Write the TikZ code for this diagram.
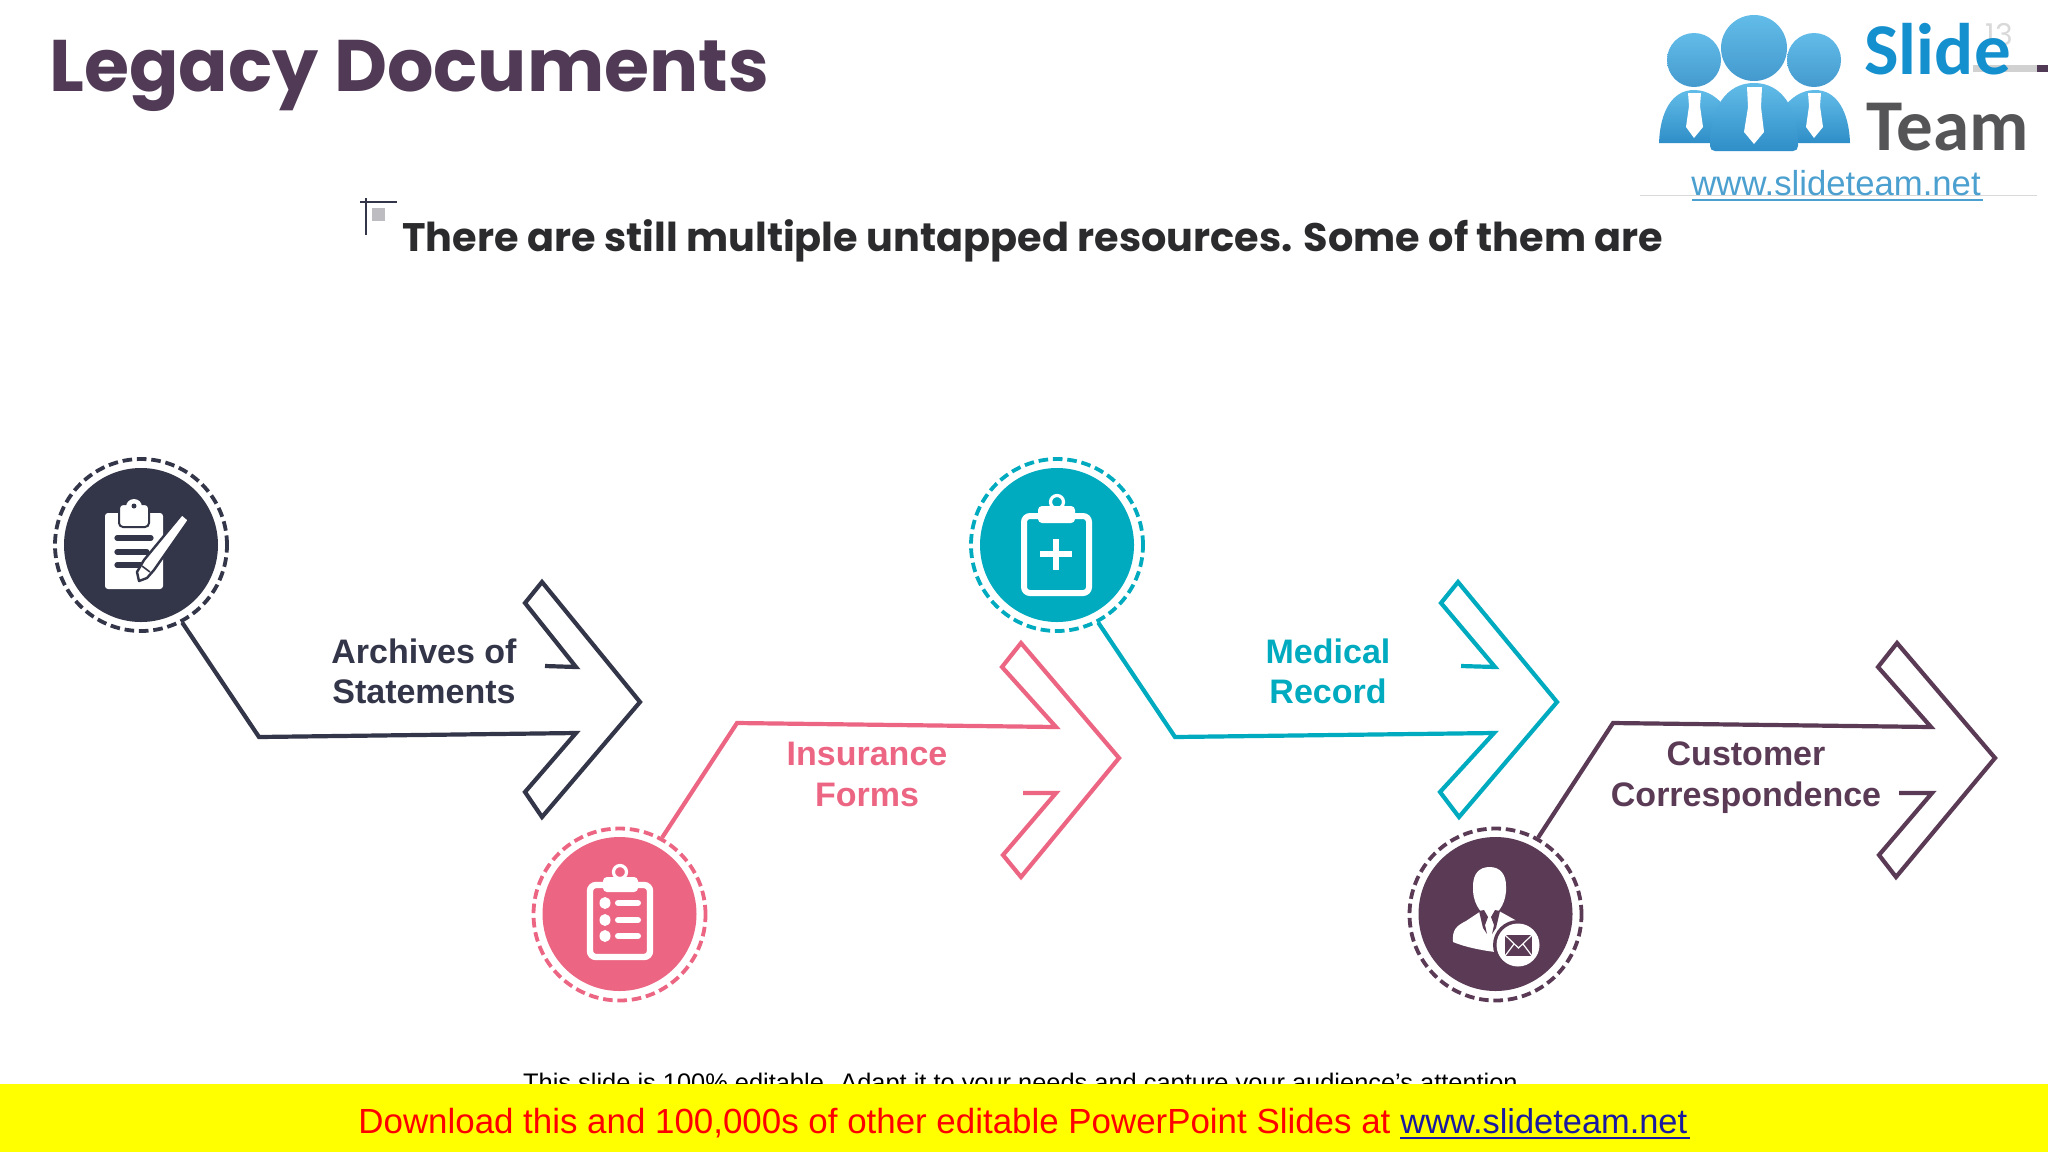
\documentclass[tikz,border=0pt]{standalone}
\usepackage{fontspec}
\setmainfont{Liberation Sans}
\newfontfamily\headfont{Poppins}
\newfontfamily\logofont{Carlito}
\usetikzlibrary{calc}
\definecolor{cdark}{HTML}{333549}
\definecolor{cpink}{HTML}{EC6684}
\definecolor{cteal}{HTML}{00ABC0}
\definecolor{cplum}{HTML}{5A3A55}
\definecolor{ctitle}{HTML}{503A55}
\definecolor{csub}{HTML}{2B2B2E}
\definecolor{logoA}{HTML}{62BCE8}
\definecolor{logoB}{HTML}{2F8EC8}
\definecolor{logoC}{HTML}{1590CE}
\definecolor{logoG}{HTML}{555558}
\definecolor{logoL}{HTML}{4BA0D0}
\definecolor{cband}{HTML}{FFFF00}
\definecolor{clink}{HTML}{1A1AA0}
\tikzset{
  x=0.5pt,y=-0.5pt,
  flow/.style={draw=#1,line width=2.1pt,miter limit=10,line join=miter},
  ringnode/.style={circle,draw=#1,line width=1.9pt,dash pattern=on 4.8pt off 2.4pt,minimum size=86pt,inner sep=0pt},
  disk/.style={circle,fill=#1,minimum size=77pt,inner sep=0pt},
  lab/.style={font=\bfseries\fontsize{17}{20}\selectfont,text=#1,anchor=base,inner sep=0pt},
  iconw/.style={fill=white,draw=none},
  headtxt/.style={font=\headfont\bfseries,anchor=base west,inner sep=0pt},
  logohead/.style={circle,top color=logoA,bottom color=logoB!90!white,draw=none,minimum size=#1,inner sep=0pt},
}
\begin{document}
\begin{tikzpicture}
\useasboundingbox (0,0) rectangle (2048,1152);
\fill[white] (0,0) rectangle (2048,1152);

% top rule and number
\fill[black!18] (1973,65) rectangle (2037,72);
\fill[ctitle] (2037,65) rectangle (2048,72);
\node[headtxt,text=black!15,font=\headfont\fontsize{15}{18}\selectfont] (pagenum) at (1985,45) {13};

% title
\node[headtxt,text=ctitle,font=\headfont\bfseries\fontsize{36.5}{40}\selectfont] (title) at (49,91) {Legacy Documents};
\draw[cdark,line width=0.6pt] (360,202) -- (397,202) (366,198) -- (366,235);
\fill[black!25!blue!5!gray!50] (372,208) rectangle (385,221);
\node[headtxt,text=csub,font=\headfont\bfseries\fontsize{19.9}{22}\selectfont] (sub) at (402,251) {There are still multiple untapped resources. Some of them are};

% logo
\draw[black!15,line width=0.4pt] (1640,195) -- (2037,195);
\shade[top color=logoA,bottom color=logoB] (1659,143) .. controls (1660,112) and (1672,90) .. (1694,90) .. controls (1708,90) and (1718,98) .. (1726,108) -- (1726,143) -- cycle;
\shade[top color=logoA,bottom color=logoB] (1850,143) .. controls (1849,112) and (1837,90) .. (1815,90) .. controls (1801,90) and (1791,98) .. (1783,108) -- (1783,143) -- cycle;
\shade[top color=logoA,bottom color=logoB] (1710,146) .. controls (1710,108) and (1726,83) .. (1754,83) .. controls (1782,83) and (1798,108) .. (1798,146) .. controls (1798,149) and (1796,151) .. (1793,151) -- (1715,151) .. controls (1712,151) and (1710,149) .. (1710,146) -- cycle;
\node[logohead=27pt] (h1) at (1694,60) {};
\node[logohead=27pt] (h3) at (1814,60) {};
\node[logohead=33pt] (h2) at (1754,48) {};
\fill[white] (1688,93) -- (1701,93) -- (1700,106) -- (1703,127) -- (1694,138) -- (1686,127) -- (1689,106) -- cycle;
\fill[white] (1808,93) -- (1821,93) -- (1820,106) -- (1823,127) -- (1814,138) -- (1806,127) -- (1809,106) -- cycle;
\fill[white] (1747,87) -- (1762,87) -- (1761,107) -- (1764,132) -- (1754,144) -- (1744,132) -- (1748,107) -- cycle;
\node[headtxt,text=logoC,font=\logofont\bfseries\fontsize{36.5}{40}\selectfont] (slide) at (1864,74) {Slide};
\node[headtxt,text=logoG,font=\logofont\bfseries\fontsize{36.5}{40}\selectfont] (team) at (1866,150) {Team};
\node[headtxt,text=logoL,font=\fontsize{17.35}{20}\selectfont] (logourl) at (1691,195) {www.slideteam.net};
\draw[logoL,line width=1pt] (1692,200) -- (1983,200);

% circles
\node[ringnode=cdark] (c1) at (141,545) {};
\node[disk=cdark] (d1) at (141,545) {};
\node[ringnode=cpink] (c2) at (619.5,914.5) {};
\node[disk=cpink] (d2) at (619.5,914) {};
\node[ringnode=cteal] (c3) at (1057,545) {};
\node[disk=cteal] (d3) at (1057,545) {};
\node[ringnode=cplum] (c4) at (1495.5,914.5) {};
\node[disk=cplum] (d4) at (1495.5,914) {};

% arrows
\coordinate (e1) at (259,737);
\draw[flow=cdark] (c1.-62) -- (e1) -- (576,733) -- (525,792) -- (542,817) -- (640,702) -- (542,582) -- (525,603) -- (576,667) -- (545,666);
\coordinate (e2) at (737,723);
\draw[flow=cpink] (c2.61) -- (e2) -- (1056,727) -- (1002,667) -- (1021,643) -- (1119,758) -- (1021,877) -- (1003,855) -- (1056,793) -- (1023,793);
\coordinate (e3) at (1175,737);
\draw[flow=cteal] (c3.-62) -- (e3) -- (1494,733) -- (1440,792) -- (1459,817) -- (1557,702) -- (1458,582) -- (1441,603) -- (1495,667) -- (1461,666);
\coordinate (e4) at (1613,723);
\draw[flow=cplum] (c4.61) -- (e4) -- (1931,727) -- (1878,667) -- (1897,643) -- (1995,758) -- (1896,877) -- (1879,855) -- (1932,793) -- (1899,793);

% labels
\node[lab=cdark] (l1a) at (424,663) {Archives of};
\node[lab=cdark] (l1b) at (424,703) {Statements};
\node[lab=cpink] (l2a) at (867,765) {Insurance};
\node[lab=cpink] (l2b) at (867,806) {Forms};
\node[lab=cteal] (l3a) at (1328,663) {Medical};
\node[lab=cteal] (l3b) at (1328,703) {Record};
\node[lab=cplum] (l4a) at (1746,765) {Customer};
\node[lab=cplum] (l4b) at (1746,806) {Correspondence};

% icon 1
\fill[white,rounded corners=1.5pt] (105,513) rectangle (163,589);
\fill[white,draw=cdark,line width=1pt,rounded corners=2pt] (119,504) rectangle (149,527);
\fill[white] (134,507) circle[radius=8];
\fill[cdark] (134,506) circle[radius=2.5];
\draw[cdark,line width=2.6pt,line cap=round] (117,538) -- (151,538) (117,552) -- (147,552) (117,565) -- (141,565);
\draw[cdark,line width=1.2pt,line join=round,fill=white] (182,514) -- (189,520) -- (154,570) -- (147,578) -- (139,581) -- (137,572) -- (144,560) -- cycle;
\draw[cdark,line width=0.8pt] (142,566) -- (150,572);

% icon 2
\draw[white,line width=3.2pt,rounded corners=3pt] (590,885) rectangle (650,957);
\fill[white,rounded corners=2pt] (603,877) rectangle (638,892);
\draw[white,line width=1.6pt] (620,872) circle[radius=6.5];
\foreach \yy in {903,920,936}{
  \fill[white] (605,\yy) ellipse[x radius=5.5,y radius=6];
  \draw[white,line width=3pt,line cap=round] (618,\yy) -- (638,\yy);
}

% icon 3
\draw[white,line width=3pt,rounded corners=3pt] (1024,516) rectangle (1089,593);
\fill[white,rounded corners=2pt] (1038,506) rectangle (1075,523);
\draw[white,line width=1.6pt] (1057,502) circle[radius=6.5];
\draw[white,line width=3pt] (1040,554) -- (1072,554) (1056,539) -- (1056,570);

% icon 4
\fill[white] (1453,942) .. controls (1452,930) and (1456,926) .. (1466,921) -- (1481,911) -- (1499,911) -- (1517,921) -- (1530,940) -- (1515,955) -- (1495,952) .. controls (1480,950) and (1465,947) .. (1453,942) -- cycle;
\fill[white] (1489.5,867) .. controls (1500,867) and (1506,874) .. (1506,886) .. controls (1507,900) and (1500,914) .. (1489.5,917) .. controls (1479,914) and (1472,900) .. (1473,886) .. controls (1473,874) and (1479,867) .. (1489.5,867) -- cycle;
\fill[cplum] (1479,911) -- (1484,910) -- (1488,917) -- (1485,925) -- (1487,934) -- (1483,928) -- cycle;
\fill[cplum] (1500,911) -- (1495,910) -- (1491,917) -- (1494,925) -- (1492,934) -- (1496,928) -- cycle;
\fill[cplum] (1518,945) circle[radius=25];
\fill[white] (1518,945) circle[radius=21.5];
\fill[cplum] (1505,935) rectangle (1532,956);
\draw[white,line width=0.6pt] (1505,935) -- (1518.5,948) -- (1532,935) (1505,956) -- (1514,944) (1532,956) -- (1523,944);

% footer
\node[anchor=base,inner sep=0pt,text=black,font=\fontsize{12.7}{15}\selectfont] (foot) at (1024,1091) {This slide is 100\% editable. Adapt it to your needs and capture your audience\symbol{39}s attention.};
\fill[cband] (0,1084) rectangle (2048,1152);
\node[anchor=base west,inner sep=0pt,text=red,font=\fontsize{17.45}{20}\selectfont] (dl) at (358,1133) {Download this and 100,000s of other editable PowerPoint Slides at};
\node[anchor=base west,inner sep=0pt,text=clink,font=\fontsize{17.2}{20}\selectfont] (dlurl) at (1400,1133) {www.slideteam.net};
\draw[clink,line width=1pt] (1400,1138) -- (1690,1138);
\end{tikzpicture}
\end{document}
